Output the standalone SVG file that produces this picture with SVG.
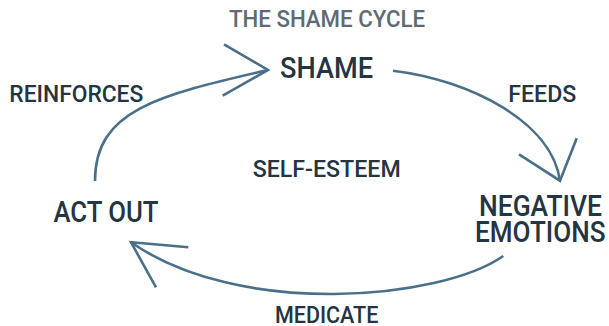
<svg xmlns="http://www.w3.org/2000/svg" width="609" height="326" viewBox="0 0 609 326">
<style>
  text { font-family: Roboto, "DejaVu Sans Condensed", "Liberation Sans", sans-serif; font-weight: 500; fill: #243441; }
  .title { fill: #5e6b74; font-size: 24px; }
  .big { font-size: 29px; }
  .lbl { font-size: 23.5px; }
  .c { fill: none; stroke: #4a7089; stroke-width: 2.6; stroke-linecap: butt; stroke-linejoin: miter; }
</style>
<rect width="609" height="326" fill="#ffffff"/>
<text class="title" x="229" y="27" textLength="196" lengthAdjust="spacingAndGlyphs">THE SHAME CYCLE</text>
<g id="connectors">
  <path class="c" d="M95,181 C95,110 158,95.3 268,70"/>
  <path class="c" d="M224,44.3 L268,70 L222.7,95.7"/>
  <path class="c" d="M393,70.7 C470,80 552,122 560,181"/>
  <path class="c" d="M519,154.3 L560,180.7 L576.7,138.3"/>
  <path class="c" d="M503.3,256 C440,300 240,318 131,242.3"/>
  <path class="c" d="M188.3,247.3 L131,242.3 L156,287.3"/>
</g>
<g id="node-shame"><text class="big" x="280" y="77.5" textLength="93" lengthAdjust="spacingAndGlyphs">SHAME</text></g>
<g id="node-negative-emotions">
  <text class="big" x="479" y="216" textLength="123" lengthAdjust="spacingAndGlyphs">NEGATIVE</text>
  <text class="big" x="475" y="241.7" textLength="130.5" lengthAdjust="spacingAndGlyphs">EMOTIONS</text>
</g>
<g id="node-act-out"><text class="big" x="53.5" y="221.7" textLength="105" lengthAdjust="spacingAndGlyphs">ACT OUT</text></g>
<g id="node-self-esteem"><text class="lbl" x="252.7" y="176.7" textLength="148" lengthAdjust="spacingAndGlyphs">SELF-ESTEEM</text></g>
<g id="label-feeds"><text class="lbl" x="508.3" y="101.7" textLength="68" lengthAdjust="spacingAndGlyphs">FEEDS</text></g>
<g id="label-reinforces"><text class="lbl" x="9.3" y="102.3" textLength="134" lengthAdjust="spacingAndGlyphs">REINFORCES</text></g>
<g id="label-medicate"><text class="lbl" x="275" y="323.3" textLength="103.3" lengthAdjust="spacingAndGlyphs">MEDICATE</text></g>
</svg>
